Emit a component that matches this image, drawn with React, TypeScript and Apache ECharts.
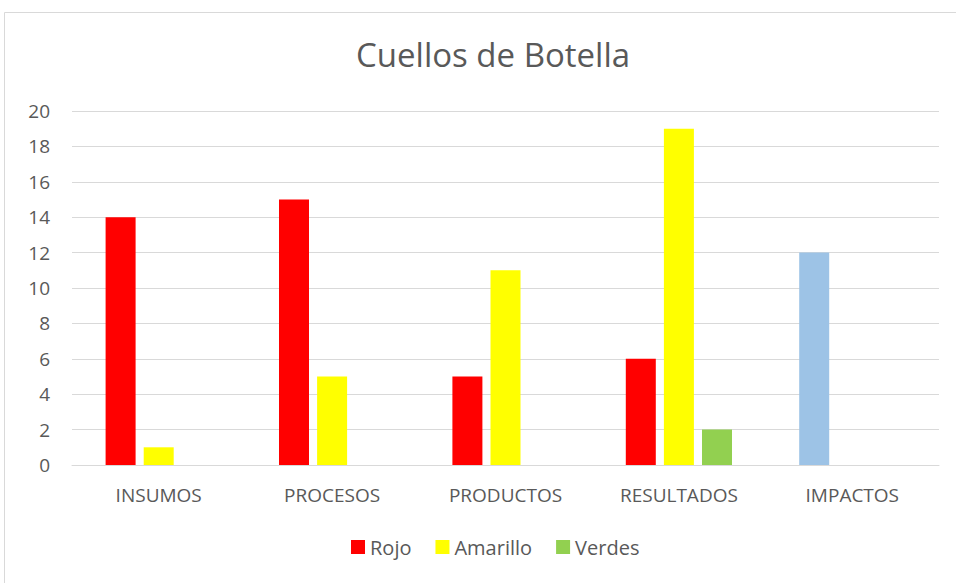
import React, { useEffect, useRef } from "react";
import * as echarts from "echarts";

const categories = ["INSUMOS", "PROCESOS", "PRODUCTOS", "RESULTADOS", "IMPACTOS"];
const rojo = [14, 15, 5, 6, 12];
const amarillo = [1, 5, 11, 19, 0];
const verdes = [0, 0, 0, 2, 0];
const highlightIndex = 4;

export default function App() {
  const ref = useRef<HTMLDivElement>(null);
  useEffect(() => {
    const chart = echarts.init(ref.current!, null, { renderer: "svg" });
    const font = "'Open Sans', 'Noto Sans', sans-serif";
    chart.setOption({
      animation: false,
      backgroundColor: "#ffffff",
      textStyle: { fontFamily: font },
      graphic: [
        {
          type: "rect",
          shape: { x: 4.5, y: 12.5, width: 960, height: 600 },
          style: { fill: "none", stroke: "#D9D9D9", lineWidth: 1 },
          silent: true,
        },
      ],
      title: {
        text: "Cuellos de Botella",
        left: 351,
        top: 33,
        textStyle: { fontFamily: font, fontSize: 33, fontWeight: "normal", color: "#595959" },
      },
      legend: {
        bottom: 21,
        left: 346,
        itemWidth: 14,
        itemHeight: 14,
        itemGap: 24,
        icon: "rect",
        textStyle: { fontFamily: font, fontSize: 20, color: "#595959" },
        data: ["Rojo", "Amarillo", "Verdes"],
      },
      grid: { left: 72, right: 17, top: 111, bottom: 118, containLabel: false },
      xAxis: {
        type: "category",
        data: categories,
        axisLine: { lineStyle: { color: "#D9D9D9", width: 1 } },
        axisTick: { show: false },
        axisLabel: { fontFamily: font, fontSize: 19, color: "#595959", margin: 20 },
      },
      yAxis: {
        type: "value",
        min: 0,
        max: 20,
        interval: 2,
        axisLine: { show: false },
        axisTick: { show: false },
        splitLine: { lineStyle: { color: "#D9D9D9", width: 1 } },
        axisLabel: { fontFamily: font, fontSize: 19, color: "#595959", margin: 22 },
      },
      series: [
        {
          name: "Rojo",
          type: "bar",
          barWidth: 30,
          barGap: "27%",
          itemStyle: { color: "#FF0000" },
          data: rojo.map((v, i) =>
            i === highlightIndex ? { value: v, itemStyle: { color: "#9DC3E6" } } : v
          ),
        },
        {
          name: "Amarillo",
          type: "bar",
          barWidth: 30,
          barGap: "27%",
          itemStyle: { color: "#FFFF00" },
          data: amarillo,
        },
        {
          name: "Verdes",
          type: "bar",
          barWidth: 30,
          barGap: "27%",
          itemStyle: { color: "#92D050" },
          data: verdes,
        },
      ],
    });
    return () => chart.dispose();
  }, []);
  return (
    <div
      ref={ref}
      style={{ position: "fixed", left: 0, top: 0, width: 956, height: 583 }}
    />
  );
}
